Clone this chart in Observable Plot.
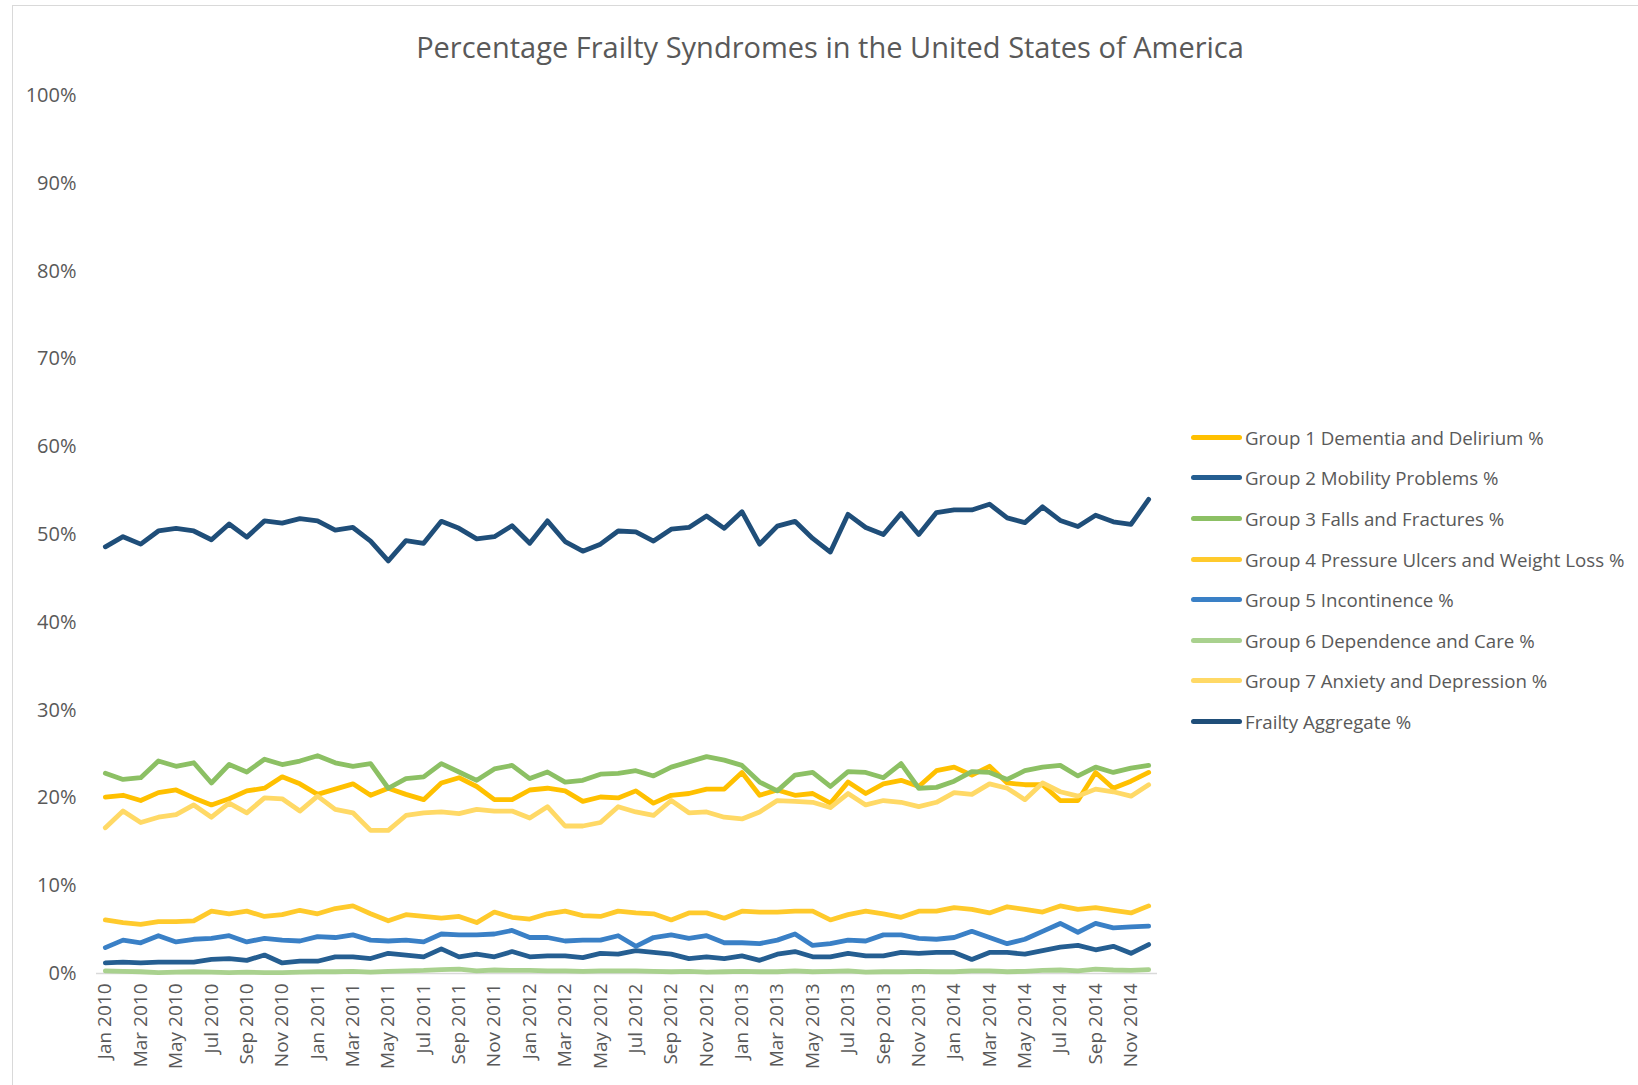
<!DOCTYPE html>
<html><head><meta charset="utf-8">
<script src="https://cdn.jsdelivr.net/npm/d3@7"></script>
<script src="https://cdn.jsdelivr.net/npm/@observablehq/plot@0.6"></script>
<style>
body{margin:0;background:#fff;font-family:"Open Sans",sans-serif;}
#wrap{position:relative;width:1638px;height:1085px;overflow:hidden;background:#fff;}
#frame{position:absolute;left:12px;top:5px;width:1700px;height:1200px;border-left:1.5px solid #d9d9d9;border-top:1.5px solid #d9d9d9;}
#title{position:absolute;left:0;width:1660px;top:27px;text-align:center;font-size:29px;color:#595959;white-space:nowrap;}
#chart{position:absolute;left:0;top:0;}
.lg{position:absolute;left:1191px;height:26px;display:flex;align-items:center;white-space:nowrap;font-size:18.7px;color:#595959;}
.sw{width:51px;height:5px;border-radius:3px;margin-right:3px;}
</style>
</head><body>
<div id="wrap"><div id="frame"></div><div id="chart"></div><div id="title">Percentage Frailty Syndromes in the United States of America</div><div id="legend"></div></div>
<script>
const monthNames = ["Jan","Feb","Mar","Apr","May","Jun","Jul","Aug","Sep","Oct","Nov","Dec"];
const years = [2010, 2011, 2012, 2013, 2014];
const months = [];
for (const y of years) for (const m of monthNames) months.push(m + " " + y);
const tickLabels = months.filter((d, i) => i % 2 === 0);
const yTicks = [0,10,20,30,40,50,60,70,80,90,100];

const seriesNames = [
  "Group 1 Dementia and Delirium %",
  "Group 2 Mobility Problems %",
  "Group 3 Falls and Fractures %",
  "Group 4 Pressure Ulcers and Weight Loss %",
  "Group 5 Incontinence %",
  "Group 6 Dependence and Care %",
  "Group 7 Anxiety and Depression %",
  "Frailty Aggregate %"
];
const seriesColors = ["#FFC000","#255E91","#8CC064","#FFCA2C","#3A80C6","#A9D18E","#FFD966","#1F4E79"];

const group1 = [20.1,20.3,19.7,20.6,20.9,20.0,19.2,19.9,20.8,21.1,22.4,21.6,20.4,21.0,21.6,20.3,21.1,20.4,19.8,21.7,22.3,21.3,19.8,19.8,20.9,21.1,20.8,19.6,20.1,20.0,20.8,19.4,20.3,20.5,21.0,21.0,22.9,20.3,20.9,20.3,20.5,19.4,21.8,20.5,21.6,22.0,21.3,23.1,23.5,22.6,23.6,21.7,21.5,21.5,19.7,19.7,22.9,21.1,21.9,22.9];
const group2 = [1.2,1.3,1.2,1.3,1.3,1.3,1.6,1.7,1.5,2.1,1.2,1.4,1.4,1.9,1.9,1.7,2.3,2.1,1.9,2.8,1.9,2.2,1.9,2.5,1.9,2.0,2.0,1.8,2.3,2.2,2.6,2.4,2.2,1.7,1.9,1.7,2.0,1.5,2.2,2.5,1.9,1.9,2.3,2.0,2.0,2.4,2.3,2.4,2.4,1.6,2.4,2.4,2.2,2.6,3.0,3.2,2.7,3.1,2.3,3.3];
const group3 = [22.8,22.1,22.3,24.2,23.6,24.0,21.7,23.8,22.95,24.4,23.8,24.2,24.8,24.0,23.6,23.9,21.1,22.2,22.4,23.9,22.95,22.0,23.3,23.7,22.2,22.95,21.8,22.0,22.7,22.8,23.1,22.5,23.5,24.1,24.7,24.3,23.7,21.8,20.8,22.6,22.9,21.3,23.0,22.9,22.3,23.9,21.1,21.2,21.9,23.0,22.9,22.1,23.1,23.5,23.7,22.5,23.5,22.9,23.4,23.7];
const group4 = [6.1,5.8,5.6,5.9,5.9,6.0,7.1,6.8,7.1,6.5,6.7,7.2,6.8,7.4,7.7,6.8,6.0,6.7,6.5,6.3,6.5,5.8,7.0,6.4,6.2,6.8,7.1,6.6,6.5,7.1,6.9,6.8,6.1,6.9,6.9,6.3,7.1,7.0,7.0,7.1,7.1,6.1,6.7,7.1,6.8,6.4,7.1,7.1,7.5,7.3,6.9,7.6,7.3,7.0,7.7,7.3,7.5,7.2,6.9,7.7];
const group5 = [2.95,3.8,3.5,4.3,3.6,3.9,4.0,4.3,3.6,4.0,3.8,3.7,4.2,4.1,4.4,3.8,3.7,3.8,3.6,4.5,4.4,4.4,4.5,4.9,4.1,4.1,3.7,3.8,3.8,4.3,3.1,4.1,4.4,4.0,4.3,3.5,3.5,3.4,3.8,4.5,3.2,3.4,3.8,3.7,4.4,4.4,4.0,3.9,4.1,4.8,4.1,3.4,3.9,4.8,5.7,4.7,5.7,5.2,5.3,5.4];
const group6 = [0.3,0.25,0.2,0.1,0.15,0.2,0.15,0.1,0.15,0.1,0.1,0.15,0.2,0.2,0.25,0.15,0.25,0.3,0.35,0.45,0.5,0.3,0.4,0.35,0.35,0.3,0.3,0.25,0.3,0.3,0.3,0.25,0.2,0.25,0.15,0.2,0.25,0.2,0.2,0.3,0.2,0.25,0.3,0.15,0.2,0.2,0.25,0.2,0.2,0.3,0.3,0.2,0.25,0.35,0.4,0.3,0.5,0.4,0.35,0.45];
const group7 = [16.6,18.5,17.2,17.8,18.1,19.2,17.8,19.4,18.3,20.0,19.9,18.5,20.2,18.7,18.3,16.3,16.3,18.0,18.3,18.4,18.2,18.7,18.5,18.5,17.7,19.0,16.8,16.8,17.2,19.0,18.4,18.0,19.7,18.3,18.4,17.8,17.6,18.4,19.7,19.6,19.5,18.9,20.5,19.2,19.7,19.5,19.0,19.5,20.6,20.4,21.6,21.1,19.8,21.7,20.7,20.2,21.0,20.7,20.2,21.5];
const aggregate = [48.6,49.75,48.9,50.4,50.7,50.4,49.4,51.2,49.7,51.55,51.3,51.8,51.55,50.5,50.8,49.25,47.0,49.3,49.0,51.5,50.7,49.5,49.75,51.0,49.0,51.55,49.2,48.1,48.9,50.4,50.3,49.25,50.6,50.8,52.1,50.7,52.6,48.9,50.95,51.5,49.55,48.0,52.3,50.8,50.0,52.4,50.0,52.5,52.8,52.8,53.45,51.9,51.35,53.15,51.6,50.9,52.2,51.45,51.15,54.0];

const seriesValues = [group1, group2, group3, group4, group5, group6, group7, aggregate];
const rows = [];
seriesValues.forEach((vals, s) => vals.forEach((v, i) => rows.push({series: seriesNames[s], month: months[i], value: v})));

const chart = Plot.plot({
  width: 1638, height: 1085,
  marginLeft: 96, marginRight: 481, marginTop: 95, marginBottom: 112,
  style: {fontFamily: "'Open Sans', sans-serif", color: "#595959", background: "transparent"},
  x: {type: "point", domain: months, padding: 0.5},
  y: {domain: [0, 100]},
  color: {domain: seriesNames, range: seriesColors},
  marks: [
    Plot.ruleY([0], {stroke: "#d9d9d9", strokeWidth: 1.5}),
    Plot.axisY({ticks: yTicks, tickSize: 0, tickPadding: 20, tickFormat: d => d + "%", fontSize: 20, fill: "#595959", label: null}),
    Plot.axisX({ticks: tickLabels, tickSize: 0, tickPadding: 10, tickRotate: -90, fontSize: 19, fill: "#595959", label: null}),
    Plot.line(rows, {x: "month", y: "value", z: "series", stroke: "series", strokeWidth: 4.8, strokeLinejoin: "round", strokeLinecap: "round"})
  ]
});
document.getElementById("chart").appendChild(chart);

const legendTops = [437, 477.5, 518, 559, 599.5, 640, 680.5, 721];
const lg = document.getElementById("legend");
seriesNames.forEach((name, i) => {
  const row = document.createElement("div");
  row.className = "lg";
  row.style.top = (legendTops[i] - 13) + "px";
  row.innerHTML = `<div class="sw" style="background:${seriesColors[i]}"></div><span>${name}</span>`;
  lg.appendChild(row);
});
</script>
</body></html>
